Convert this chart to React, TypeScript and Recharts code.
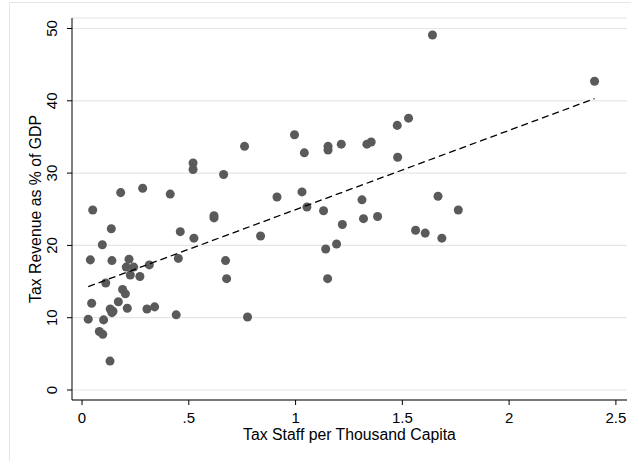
import React from 'react';
import { ScatterChart, Scatter, XAxis, YAxis, CartesianGrid, Label } from 'recharts';

// tax staff per thousand capita
const staff = [
  0.029, 0.039, 0.045, 0.05, 0.081, 0.095, 0.097, 0.101, 0.111, 0.131,
  0.132, 0.137, 0.14, 0.14, 0.145, 0.17, 0.181, 0.19, 0.203, 0.207,
  0.212, 0.22, 0.226, 0.242, 0.271, 0.284, 0.304, 0.315, 0.34, 0.413,
  0.441, 0.451, 0.46, 0.52, 0.52, 0.524, 0.618, 0.618, 0.663, 0.672,
  0.677, 0.761, 0.775, 0.836, 0.913, 0.995, 1.03, 1.041, 1.053, 1.131,
  1.141, 1.15, 1.152, 1.152, 1.192, 1.214, 1.219, 1.311, 1.318, 1.334,
  1.354, 1.384, 1.476, 1.478, 1.529, 1.562, 1.607, 1.641, 1.667, 1.685,
  1.762, 2.4,
];

// tax revenue as % of GDP
const revenue = [
  9.8, 18.0, 12.0, 24.9, 8.1, 20.1, 7.7, 9.7, 14.8, 4.0,
  11.2, 22.3, 17.9, 10.7, 10.9, 12.2, 27.3, 13.9, 13.3, 17.0,
  11.3, 18.1, 15.9, 17.0, 15.7, 27.9, 11.2, 17.3, 11.5, 27.1,
  10.4, 18.2, 21.9, 31.4, 30.5, 21.0, 24.1, 23.8, 29.8, 17.9,
  15.4, 33.7, 10.1, 21.3, 26.7, 35.3, 27.4, 32.8, 25.3, 24.8,
  19.5, 15.4, 33.7, 33.2, 20.2, 34.0, 22.9, 26.3, 23.7, 34.0,
  34.3, 24.0, 36.6, 32.2, 37.6, 22.1, 21.7, 49.1, 26.8, 21.0,
  24.9, 42.7,
];

// fitted line end points
const fitX = [0.029, 2.4];
const fitY = [14.3, 40.3];

const xTicks = [0, 0.5, 1, 1.5, 2, 2.5];
const yTicks = [0, 10, 20, 30, 40, 50];

const points = staff.map((x, i) => ({ x, y: revenue[i] }));
const fit = fitX.map((x, i) => ({ x, y: fitY[i] }));

const font = '"Liberation Sans", Arial, Helvetica, sans-serif';

const fmtX = (v: number) => (v > 0 && v < 1 ? String(v).replace(/^0/, '') : String(v));

const XTick = (props: any) => {
  const { x, y, payload } = props;
  return (
    <text x={x} y={y + 17.5} textAnchor="middle" fontSize={15} fill="#000" fontFamily={font}>
      {fmtX(payload.value)}
    </text>
  );
};

const YTick = (props: any) => {
  const { x, y, payload } = props;
  const bx = x - 9.5;
  return (
    <text
      x={bx}
      y={y}
      textAnchor="middle"
      fontSize={15}
      fill="#000"
      fontFamily={font}
      transform={`rotate(-90, ${bx}, ${y})`}
    >
      {payload.value}
    </text>
  );
};

const XTitle = (props: any) => {
  const { x, y, width } = props.viewBox;
  return (
    <text x={x + width / 2} y={y + 40} textAnchor="middle" fontSize={15.8} fill="#000" fontFamily={font}>
      Tax Staff per Thousand Capita
    </text>
  );
};

const YTitle = (props: any) => {
  const { y, height } = props.viewBox;
  const cx = 40.5;
  const cy = y + height / 2;
  return (
    <text
      x={cx}
      y={cy}
      textAnchor="middle"
      fontSize={15.8}
      fill="#000"
      fontFamily={font}
      transform={`rotate(-90, ${cx}, ${cy})`}
    >
      Tax Revenue as % of GDP
    </text>
  );
};

export default function App() {
  return (
    <div style={{ position: 'absolute', left: 0, top: 0, width: 631, height: 461, background: '#fff', overflow: 'hidden' }}>
      <div
        style={{
          position: 'absolute',
          left: 9,
          top: 2,
          width: 640,
          height: 470,
          borderLeft: '1px solid #e6e6e6',
          borderTop: '1px solid #e6e6e6',
        }}
      />
      <ScatterChart
        width={631}
        height={461}
        margin={{ top: 18, right: 4, bottom: 0, left: 0 }}
        style={{ position: 'absolute', left: 0, top: 0 }}
      >
        <CartesianGrid horizontal vertical={false} stroke="#e6e6e6" strokeWidth={1.2} />
        <XAxis
          type="number"
          dataKey="x"
          domain={[-0.047, 2.552]}
          allowDataOverflow
          ticks={xTicks}
          height={61}
          tickSize={5}
          tickMargin={0}
          stroke="#000"
          tickLine={{ stroke: '#000' }}
          axisLine={{ stroke: '#000' }}
          tick={<XTick />}
        >
          <Label content={<XTitle />} />
        </XAxis>
        <YAxis
          type="number"
          dataKey="y"
          domain={[-1.38, 51.45]}
          allowDataOverflow
          ticks={yTicks}
          width={72}
          tickSize={5}
          tickMargin={0}
          stroke="#000"
          tickLine={{ stroke: '#000' }}
          axisLine={{ stroke: '#000' }}
          tick={<YTick />}
        >
          <Label content={<YTitle />} />
        </YAxis>
        <Scatter data={points} fill="#5a5a5a" shape="circle" isAnimationActive={false} />
        <Scatter
          data={fit}
          line={{ stroke: '#000', strokeWidth: 1.3, strokeDasharray: '7 4' }}
          shape={() => null}
          isAnimationActive={false}
        />
      </ScatterChart>
    </div>
  );
}
